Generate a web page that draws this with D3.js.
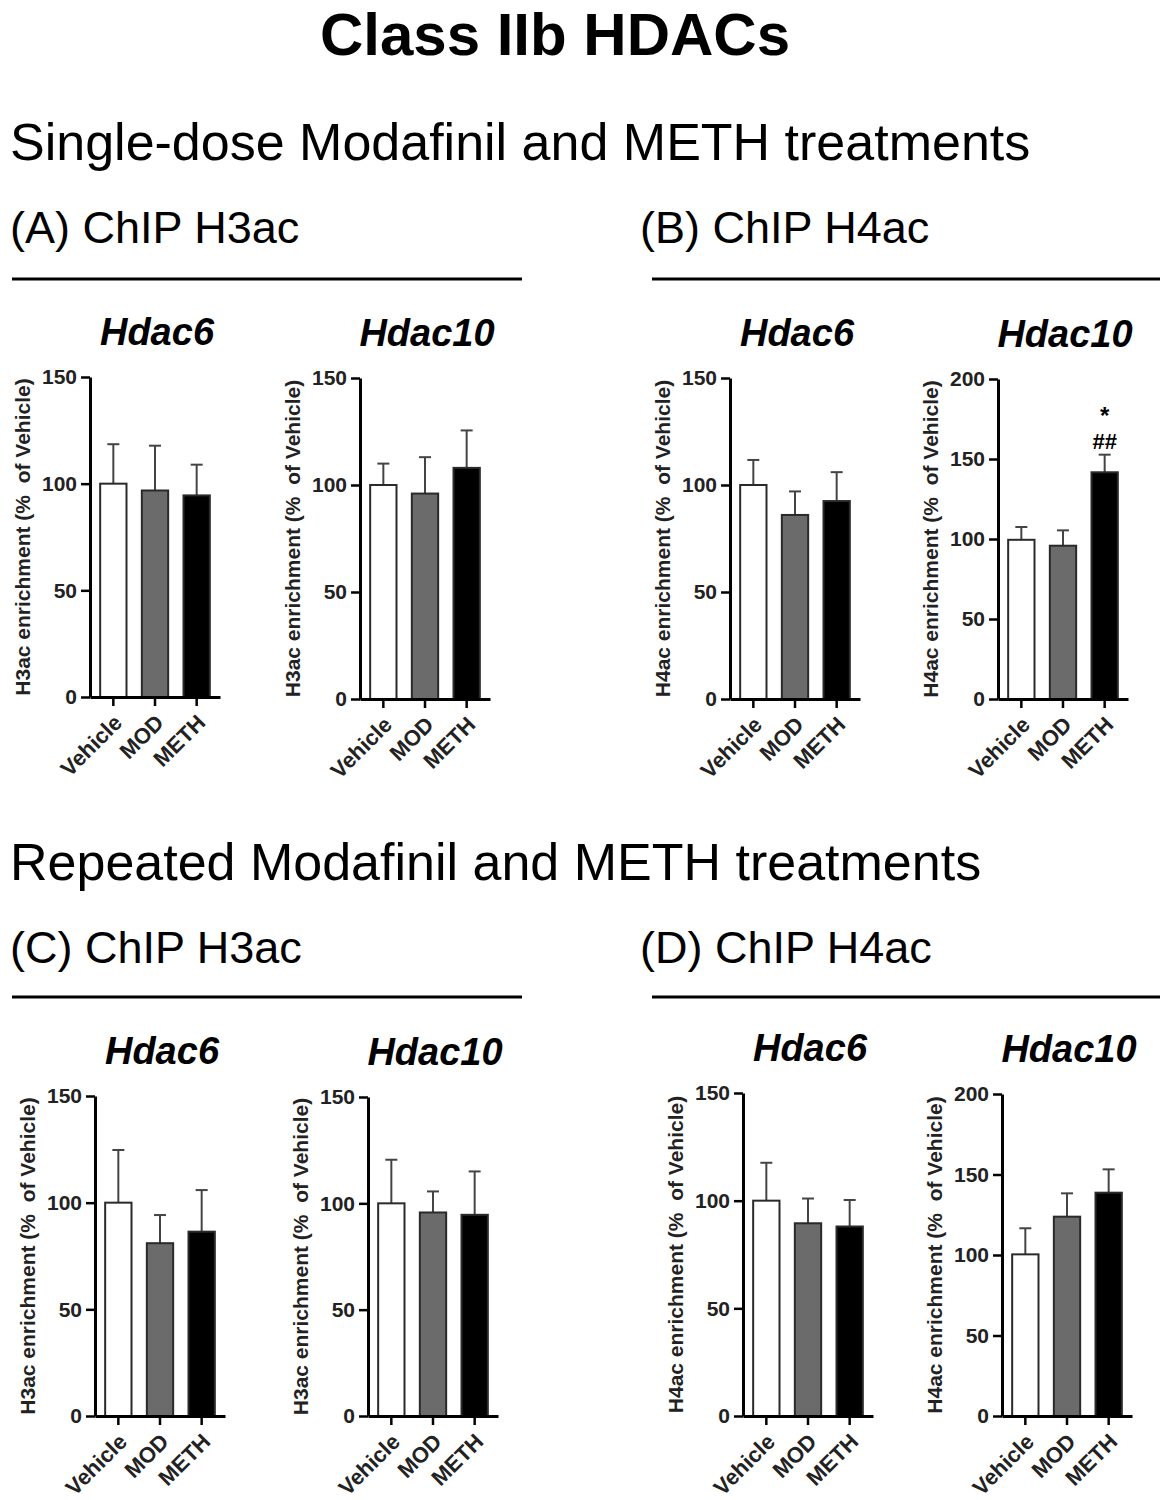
<!DOCTYPE html>
<html>
<head>
<meta charset="utf-8">
<script src="https://cdn.jsdelivr.net/npm/d3@7"></script>
<style>
  body { margin: 0; background: #fff; }
  text { font-family: "Liberation Sans", Arial, sans-serif; }
</style>
</head>
<body>
<div id="chart"></div>
<script>
// Treatment groups, same for every panel.
const groups = ["Vehicle", "MOD", "METH"];

// Single-dose, ChIP H3ac (mean, SEM as % of Vehicle)
const singleH3Hdac6 = [100, 96.8, 94.5];
const singleH3Hdac6Sem = [18.5, 21, 14.4];
const singleH3Hdac10 = [100, 96, 108];
const singleH3Hdac10Sem = [10, 17, 17.5];

// Single-dose, ChIP H4ac
const singleH4Hdac6 = [100, 86, 92.5];
const singleH4Hdac6Sem = [11.7, 11, 13.5];
const singleH4Hdac10 = [99.5, 95.8, 141.7];
const singleH4Hdac10Sem = [8, 9.6, 11];
const singleH4Hdac10Marks = ["", "", "*|##"];

// Repeated, ChIP H3ac
const repH3Hdac6 = [100, 81, 86.4];
const repH3Hdac6Sem = [24.7, 13.2, 19.5];
const repH3Hdac10 = [100, 95.7, 94.6];
const repH3Hdac10Sem = [20.5, 9.9, 20.4];

// Repeated, ChIP H4ac
const repH4Hdac6 = [100, 89.5, 88];
const repH4Hdac6Sem = [17.6, 11.5, 12.3];
const repH4Hdac10 = [100.4, 123.8, 138.7];
const repH4Hdac10Sem = [16.2, 14.5, 14.5];

// Axis ticks
const ticks150 = [0, 50, 100, 150];
const ticks200 = [0, 50, 100, 150, 200];

const width = 1172, height = 1500;
const fills = ["#ffffff", "#6b6b6b", "#000000"];
const font = "'Liberation Sans', Arial, sans-serif";

const svg = d3.select("#chart").append("svg")
    .attr("width", width)
    .attr("height", height)
    .style("background", "#fff");

// Headings
svg.append("text")
    .attr("x", 555).attr("y", 55)
    .attr("text-anchor", "middle")
    .style("font-size", "60px").style("font-weight", "bold")
    .text("Class IIb HDACs");

function section(title, titleY) {
  svg.append("text").attr("x", 10).attr("y", titleY)
      .style("font-size", "52px").text(title);
}
section("Single-dose Modafinil and METH treatments", 160);
section("Repeated Modafinil and METH treatments", 880);

function panelHeader(label, x, y, x1, x2, lineY) {
  svg.append("text").attr("x", x).attr("y", y)
      .style("font-size", "45px").text(label);
  svg.append("line")
      .attr("x1", x1).attr("x2", x2).attr("y1", lineY).attr("y2", lineY)
      .attr("stroke", "#000").attr("stroke-width", 3);
}
panelHeader("(A) ChIP H3ac", 10, 243, 12, 522, 279);
panelHeader("(B) ChIP H4ac", 640, 243, 652, 1160, 279);
panelHeader("(C) ChIP H3ac", 10, 963, 12, 522, 997);
panelHeader("(D) ChIP H4ac", 640, 963, 652, 1160, 997);

// Panel layout (positions only), values come from the arrays above
const panels = [
  {gene: "Hdac6",  ylab: "H3ac", means: singleH3Hdac6,  sem: singleH3Hdac6Sem,  ticks: ticks150, x: 90,  top: 377, bottom: 697},
  {gene: "Hdac10", ylab: "H3ac", means: singleH3Hdac10, sem: singleH3Hdac10Sem, ticks: ticks150, x: 360, top: 378, bottom: 699},
  {gene: "Hdac6",  ylab: "H4ac", means: singleH4Hdac6,  sem: singleH4Hdac6Sem,  ticks: ticks150, x: 730, top: 378, bottom: 699},
  {gene: "Hdac10", ylab: "H4ac", means: singleH4Hdac10, sem: singleH4Hdac10Sem, ticks: ticks200, x: 998, top: 379, bottom: 699, marks: singleH4Hdac10Marks},
  {gene: "Hdac6",  ylab: "H3ac", means: repH3Hdac6,  sem: repH3Hdac6Sem,  ticks: ticks150, x: 95,  top: 1096, bottom: 1416},
  {gene: "Hdac10", ylab: "H3ac", means: repH3Hdac10, sem: repH3Hdac10Sem, ticks: ticks150, x: 368, top: 1097, bottom: 1416},
  {gene: "Hdac6",  ylab: "H4ac", means: repH4Hdac6,  sem: repH4Hdac6Sem,  ticks: ticks150, x: 743, top: 1093, bottom: 1416},
  {gene: "Hdac10", ylab: "H4ac", means: repH4Hdac10, sem: repH4Hdac10Sem, ticks: ticks200, x: 1002, top: 1094, bottom: 1416}
];

panels.forEach(drawPanel);

function drawPanel(p) {
  const plotW = 130;
  const g = svg.append("g");
  const x = d3.scaleBand().domain(groups)
      .range([p.x, p.x + plotW]).paddingInner(0.32).paddingOuter(0.22);
  const y = d3.scaleLinear().domain([0, d3.max(p.ticks)]).range([p.bottom, p.top]);

  // error bars (upper half only)
  const err = g.append("g").attr("stroke", "#444").attr("stroke-width", 2);
  groups.forEach((k, i) => {
    const cx = x(k) + x.bandwidth() / 2;
    err.append("line").attr("x1", cx).attr("x2", cx)
        .attr("y1", y(p.means[i])).attr("y2", y(p.means[i] + p.sem[i]));
    err.append("line").attr("x1", cx - 6).attr("x2", cx + 6)
        .attr("y1", y(p.means[i] + p.sem[i])).attr("y2", y(p.means[i] + p.sem[i]));
  });

  // bars
  g.selectAll("rect.bar")
    .data(p.means)
    .join("rect")
      .attr("class", "bar")
      .attr("x", (d, i) => x(groups[i]) + 1)
      .attr("y", d => y(d))
      .attr("width", x.bandwidth() - 2)
      .attr("height", d => y(0) - y(d))
      .attr("fill", (d, i) => fills[i])
      .attr("stroke", "#2a2a2a")
      .attr("stroke-width", 2);

  // significance marks: "*" above "##"
  if (p.marks) {
    p.marks.forEach((m, i) => {
      if (!m) return;
      const cx = x(groups[i]) + x.bandwidth() / 2;
      const top = y(p.means[i] + p.sem[i]);
      const parts = m.split("|");
      svg.append("text").attr("x", cx).attr("y", top - 6)
          .attr("text-anchor", "middle")
          .style("font-size", "22px").style("font-weight", "bold")
          .text(parts[1]);
      svg.append("text").attr("x", cx).attr("y", top - 31)
          .attr("text-anchor", "middle")
          .style("font-size", "24px").style("font-weight", "bold")
          .text(parts[0]);
    });
  }

  // y axis
  const yAxis = g.append("g")
      .attr("transform", `translate(${p.x},0)`)
      .call(d3.axisLeft(y).tickValues(p.ticks).tickSize(9).tickSizeOuter(0).tickPadding(4));
  yAxis.select(".domain").attr("stroke-width", 3);
  yAxis.selectAll(".tick line").attr("stroke-width", 2.5);
  yAxis.selectAll(".tick text")
      .style("font-family", font).style("font-size", "21px").style("font-weight", "bold")
      .attr("fill", "#222");

  // x axis
  const xAxis = g.append("g")
      .attr("transform", `translate(0,${p.bottom})`)
      .call(d3.axisBottom(x).tickSize(9).tickSizeOuter(0));
  xAxis.select(".domain").attr("stroke-width", 3);
  xAxis.selectAll(".tick line").attr("stroke-width", 2.5);
  xAxis.selectAll(".tick text")
      .attr("x", 0).attr("y", 0).attr("dy", 0)
      .attr("text-anchor", "end")
      .attr("transform", "translate(10,27) rotate(-45)")
      .style("font-family", font).style("font-size", "22px").style("font-weight", "bold")
      .attr("fill", "#222");

  // y label
  svg.append("text")
      .attr("transform", `translate(${p.x - 60},${(p.top + p.bottom) / 2}) rotate(-90)`)
      .attr("text-anchor", "middle")
      .style("font-size", "21px").style("font-weight", "bold")
      .attr("fill", "#222")
      .text(p.ylab + " enrichment (%\u00a0\u00a0of Vehicle)");

  // gene title
  svg.append("text")
      .attr("x", p.x + plotW / 2 + 2)
      .attr("y", p.top - 32)
      .attr("text-anchor", "middle")
      .style("font-size", "38px").style("font-weight", "bold").style("font-style", "italic")
      .text(p.gene);
}
</script>
</body>
</html>
